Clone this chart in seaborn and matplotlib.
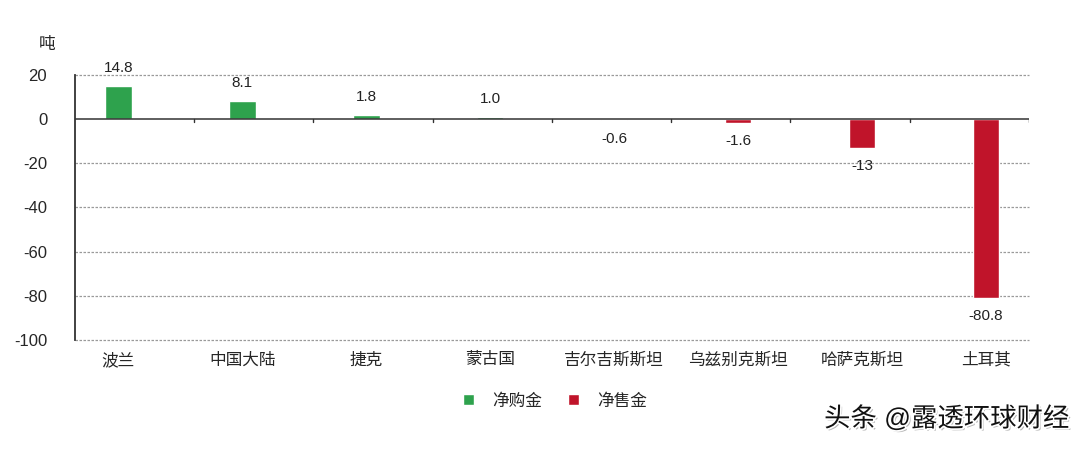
import pandas as pd
import matplotlib.pyplot as plt
import matplotlib.patheffects as pe
import matplotlib.transforms as mtransforms
import seaborn as sns
from matplotlib.patches import Patch

sns.set_style('white')
plt.rcParams['font.family'] = ['Liberation Sans', 'Noto Sans CJK SC']
plt.rcParams['axes.unicode_minus'] = False

paises = ['波兰', '中国大陆', '捷克', '蒙古国', '吉尔吉斯斯坦', '乌兹别克斯坦', '哈萨克斯坦', '土耳其']
valores = [14.8, 8.1, 1.8, 1.0, -0.6, -1.6, -13, -80.8]
rotulos = ['14.8', '8.1', '1.8', '1.0', '-0.6', '-1.6', '-13', '-80.8']
tipos = ['净购金', '净售金']
cores = {'净购金': '#2EA24D', '净售金': '#C0142A'}

df = pd.DataFrame({'pais': paises, 'valor': valores})
df['tipo'] = ['净购金' if v > 0 else '净售金' for v in df['valor']]

fig = plt.figure(figsize=(10.8, 4.49), dpi=100)
ax = fig.add_axes([0.0694, 0.243, 0.8833, 0.590])

sns.barplot(data=df, x='pais', y='valor', hue='tipo', hue_order=tipos, palette=cores,
            dodge=False, width=0.214, saturation=1, legend=False, ax=ax)

ax.set_ylim(-100, 20)
ax.set_xlim(-0.351, 7.348)
ax.set_yticks(range(-100, 21, 20))
for y in range(-100, 21, 20):
    if y != 0:
        ax.axhline(y, color='#9a9a9a', linestyle=(0, (2, 1.2)), linewidth=0.9, zorder=0, clip_on=False)
ax.axhline(0, color='#333333', linewidth=1.1, zorder=3)

# marcas das divisoes no eixo zero (fracao do eixo)
trans = mtransforms.blended_transform_factory(ax.transAxes, ax.transData)
n = len(paises)
for k in range(1, n + 1):
    ax.plot([k / n, k / n], [0, -1.2], color='#333333', linewidth=1, transform=trans, zorder=3)

for s in ['top', 'right', 'bottom']:
    ax.spines[s].set_visible(False)
ax.spines['left'].set_color('#333333')
ax.spines['left'].set_linewidth(1.3)

ax.set_xlabel('')
ax.set_ylabel('')
ax.tick_params(axis='y', length=4, width=1, color='#333333', labelsize=12, pad=18, direction='inout')
ax.tick_params(axis='x', length=0, labelsize=12, pad=9)

for i, (v, r) in enumerate(zip(valores, rotulos)):
    desloc = 13 if v > 0 else -13
    ax.annotate(r, (i, v), xytext=(0, desloc), textcoords='offset points',
                ha='center', va='center', fontsize=11, color='#222222')

fig.text(0.036, 0.902, '吨', fontsize=12, ha='left', va='center')

handles = [Patch(facecolor=cores[t], label=t) for t in tipos]
fig.legend(handles=handles, loc='center', bbox_to_anchor=(0.514, 0.107), ncol=2, frameon=False,
           fontsize=12, handlelength=0.65, handleheight=0.65, columnspacing=1.6, handletextpad=1.1)

fig.text(0.99, 0.068, '头条 @露透环球财经', fontsize=19, ha='right', va='center', color='#111111',
         path_effects=[pe.SimplePatchShadow(offset=(1.5, -1.5), shadow_rgbFace='#888888', alpha=0.6),
                       pe.withStroke(linewidth=2.5, foreground='white')])

plt.savefig('out.png', dpi=100)
